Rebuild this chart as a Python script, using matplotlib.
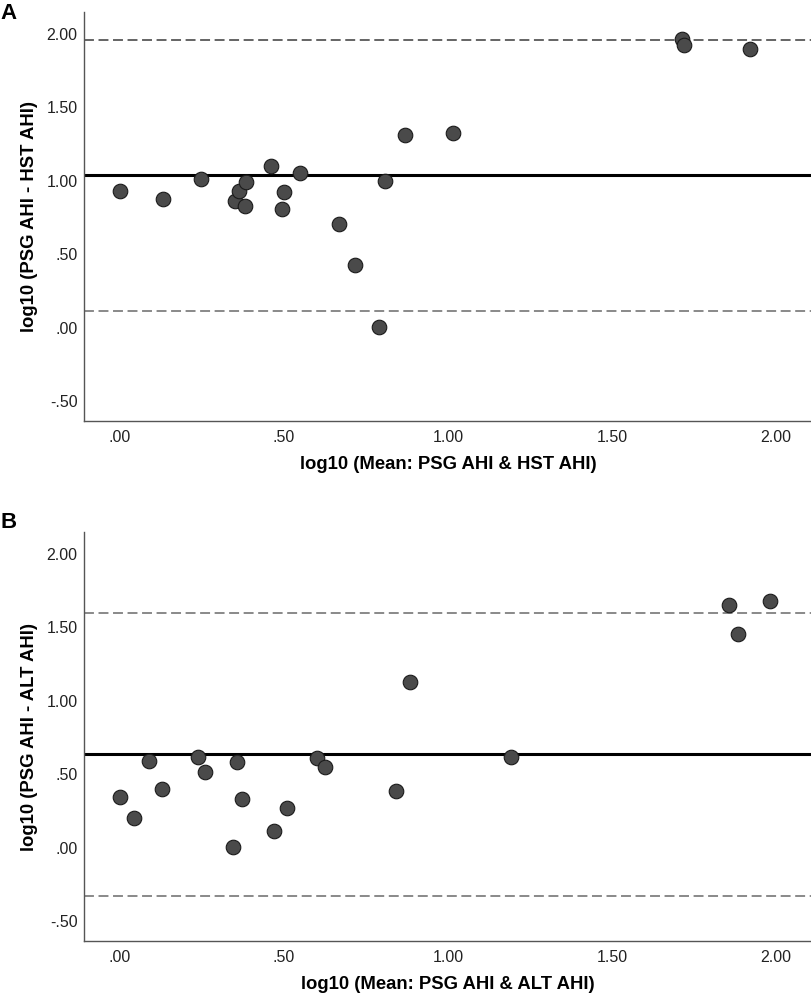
import matplotlib
matplotlib.use("Agg")
import matplotlib.pyplot as plt

plt.rcParams['font.family'] = ['Liberation Sans', 'DejaVu Sans']

# Panel A: PSG vs HST (log10 scale)
hst_mean = [0.000, 0.130, 0.248, 0.352, 0.364, 0.385, 0.380, 0.461, 0.501, 0.494,
            0.548, 0.669, 0.717, 0.791, 0.808, 0.869, 1.015, 1.715, 1.721, 1.920]
hst_diff = [0.931, 0.872, 1.012, 0.859, 0.931, 0.992, 0.827, 1.101, 0.920, 0.804,
            1.053, 0.702, 0.426, 0.005, 0.994, 1.307, 1.325, 1.966, 1.921, 1.898]
hst_bias = 1.037
hst_loa = (0.115, 1.959)

# Panel B: PSG vs ALT (log10 scale)
alt_mean = [0.000, 0.042, 0.088, 0.129, 0.237, 0.258, 0.358, 0.373, 0.343, 0.469,
            0.508, 0.601, 0.626, 0.843, 0.884, 1.192, 1.858, 1.883, 1.981]
alt_diff = [0.347, 0.207, 0.593, 0.402, 0.616, 0.514, 0.584, 0.332, 0.005, 0.116,
            0.273, 0.609, 0.548, 0.388, 1.129, 0.618, 1.649, 1.458, 1.681]
alt_bias = 0.637
alt_loa = (-0.327, 1.601)

x_ticks = [0.0, 0.5, 1.0, 1.5, 2.0]
y_ticks = [-0.5, 0.0, 0.5, 1.0, 1.5, 2.0]


def fmt(v):
    s = '{0:.2f}'.format(v)
    # SPSS style: drop leading zero
    return s.replace('0.', '.', 1) if abs(v) < 1 else s


def bland_altman(ax, xs, ys, bias, loa, loa_colors, xlabel, ylabel):
    ax.axhline(bias, color='black', lw=2.2, zorder=2)
    for lim, c in zip(loa, loa_colors):
        ax.axhline(lim, color=c, lw=1.1, dashes=(6.5, 3), zorder=2)
    ax.scatter(xs, ys, s=110, facecolor='#4a4a4a', edgecolor='#1a1a1a',
               linewidth=0.8, zorder=3)
    ax.set_xlim(-0.11, 2.11)
    ax.set_ylim(-0.635, 2.147)
    ax.set_xticks(x_ticks)
    ax.set_xticklabels([fmt(v) for v in x_ticks])
    ax.set_yticks(y_ticks)
    ax.set_yticklabels([fmt(v) for v in y_ticks])
    ax.tick_params(length=0, labelsize=11.5, colors='#222222')
    ax.tick_params(axis='y', pad=4.5)
    ax.tick_params(axis='x', pad=6.5)
    for side in ['top', 'right']:
        ax.spines[side].set_visible(False)
    for side in ['left', 'bottom']:
        ax.spines[side].set_color('#555555')
        ax.spines[side].set_linewidth(1.0)
    ax.set_xlabel(xlabel, fontsize=13.3, fontweight='bold', labelpad=8)
    ax.set_ylabel(ylabel, fontsize=13.3, fontweight='bold', labelpad=6)


fig = plt.figure(figsize=(8.12, 9.96), dpi=100)
ax_a = fig.add_axes([0.1034, 0.5773, 0.8966, 0.4107])
ax_b = fig.add_axes([0.1034, 0.0549, 0.8966, 0.4107])

bland_altman(ax_a, hst_mean, hst_diff, hst_bias, hst_loa, ('#6a6a6a', '#3a3a3a'),
             'log10 (Mean: PSG AHI & HST AHI)', 'log10 (PSG AHI - HST AHI)')
bland_altman(ax_b, alt_mean, alt_diff, alt_bias, alt_loa, ('#6a6a6a', '#6a6a6a'),
             'log10 (Mean: PSG AHI & ALT AHI)', 'log10 (PSG AHI - ALT AHI)')

fig.text(0.0, 0.997, 'A', fontsize=16, fontweight='bold', va='top', ha='left')
fig.text(0.0, 0.486, 'B', fontsize=16, fontweight='bold', va='top', ha='left')

fig.savefig('out.png', dpi=100)
